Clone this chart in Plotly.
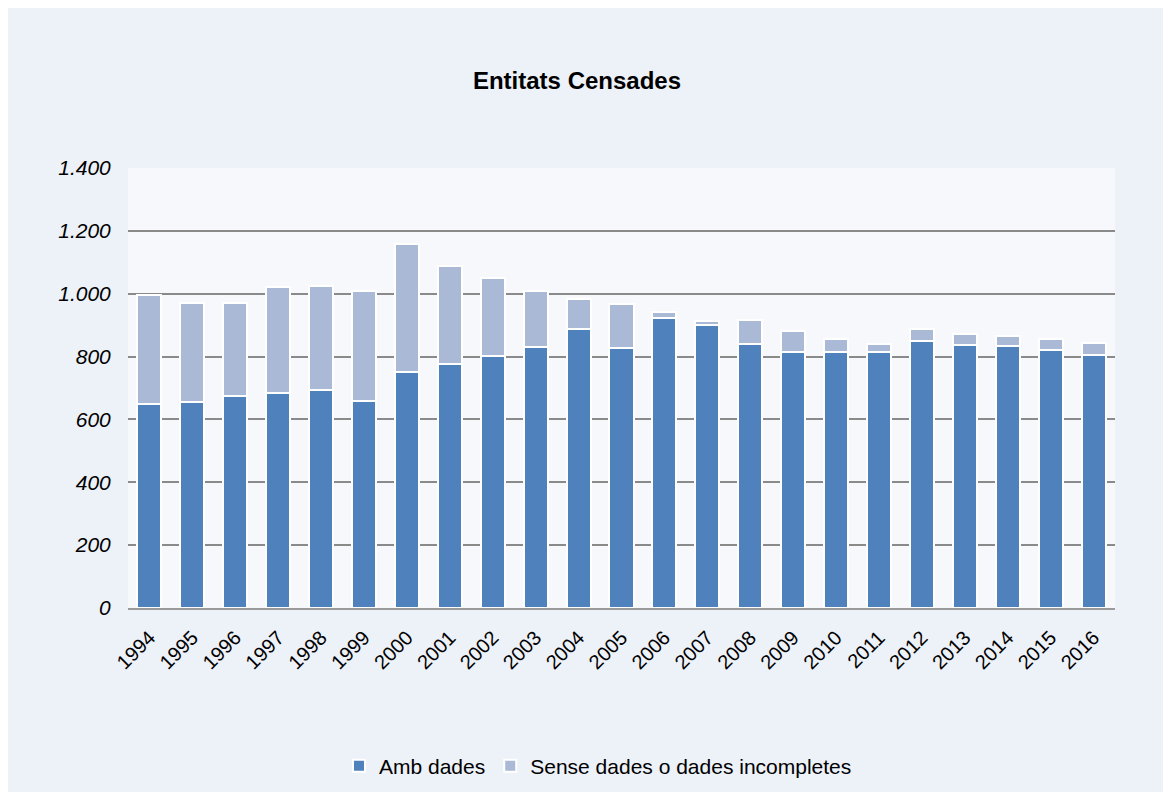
import plotly.graph_objects as go

years = [str(y) for y in range(1994, 2017)]
amb_dades = [648, 656, 675, 684, 694, 658, 752, 776, 803, 832, 889, 827, 923, 901,
             841, 815, 816, 815, 850, 836, 834, 821, 804]
totals = [995, 971, 971, 1022, 1025, 1010, 1158, 1087, 1050, 1008, 982, 966, 941, 914,
          915, 880, 856, 841, 889, 872, 865, 855, 843]
sense_dades = [t - a for t, a in zip(totals, amb_dades)]

y_ticks = [0, 200, 400, 600, 800, 1000, 1200, 1400]

FONT = "Liberation Sans, Arial, sans-serif"

fig = go.Figure()
fig.add_trace(go.Bar(
    x=years, y=amb_dades, name="Amb dades",
    marker=dict(color="#4F81BD", line=dict(color="white", width=2)),
))
fig.add_trace(go.Bar(
    x=years, y=sense_dades, name="Sense dades o dades incompletes",
    marker=dict(color="#AAB9D6", line=dict(color="white", width=2)),
))

# page has an 8px body margin, so the figure sits at (8, 8)
OFF = 8
W, H = 1171 - OFF, 792 - OFF
L, R, T, B = 128 - OFF, 56, 168 - OFF, 184
pw, ph = W - L - R, H - T - B


def px_x(p):
    return (p - OFF - L) / pw


def px_y(p):
    return (H - B - (p - OFF)) / ph


fig.update_layout(
    width=W, height=H,
    barmode="stack", bargap=0.44,
    paper_bgcolor="#EDF1F8",
    plot_bgcolor="#F6F8FC",
    margin=dict(l=L, r=R, t=T, b=B, autoexpand=False),
    font=dict(family=FONT, color="black"),
    title=dict(text="<b>Entitats Censades</b>", x=(577 - OFF) / W, xref="container",
               xanchor="center", y=1 - (81 - OFF) / H, yref="container", yanchor="middle",
               font=dict(size=24, family=FONT, color="black")),
    legend=dict(orientation="h", x=px_x(598), xanchor="center", y=px_y(766), yanchor="middle",
                font=dict(size=21, family=FONT), bgcolor="rgba(0,0,0,0)",
                traceorder="normal", itemwidth=30),
    showlegend=True,
)

fig.update_xaxes(
    type="category", tickangle=-45, tickfont=dict(size=20, family=FONT),
    ticks="outside", ticklen=8, tickcolor="rgba(0,0,0,0)",
    showline=True, linecolor="#9A9A9A", linewidth=2, showgrid=False,
)
fig.update_yaxes(
    range=[0, 1400], tickvals=y_ticks,
    ticktext=[f"<i>{v:,}</i>".replace(",", ".") for v in y_ticks],
    tickfont=dict(size=21, family=FONT),
    ticks="outside", ticklen=12, tickcolor="rgba(0,0,0,0)",
    showgrid=True, gridcolor="#8A8A8A", gridwidth=2,
    zeroline=False, showline=False,
)

fig.write_html("out.html")
